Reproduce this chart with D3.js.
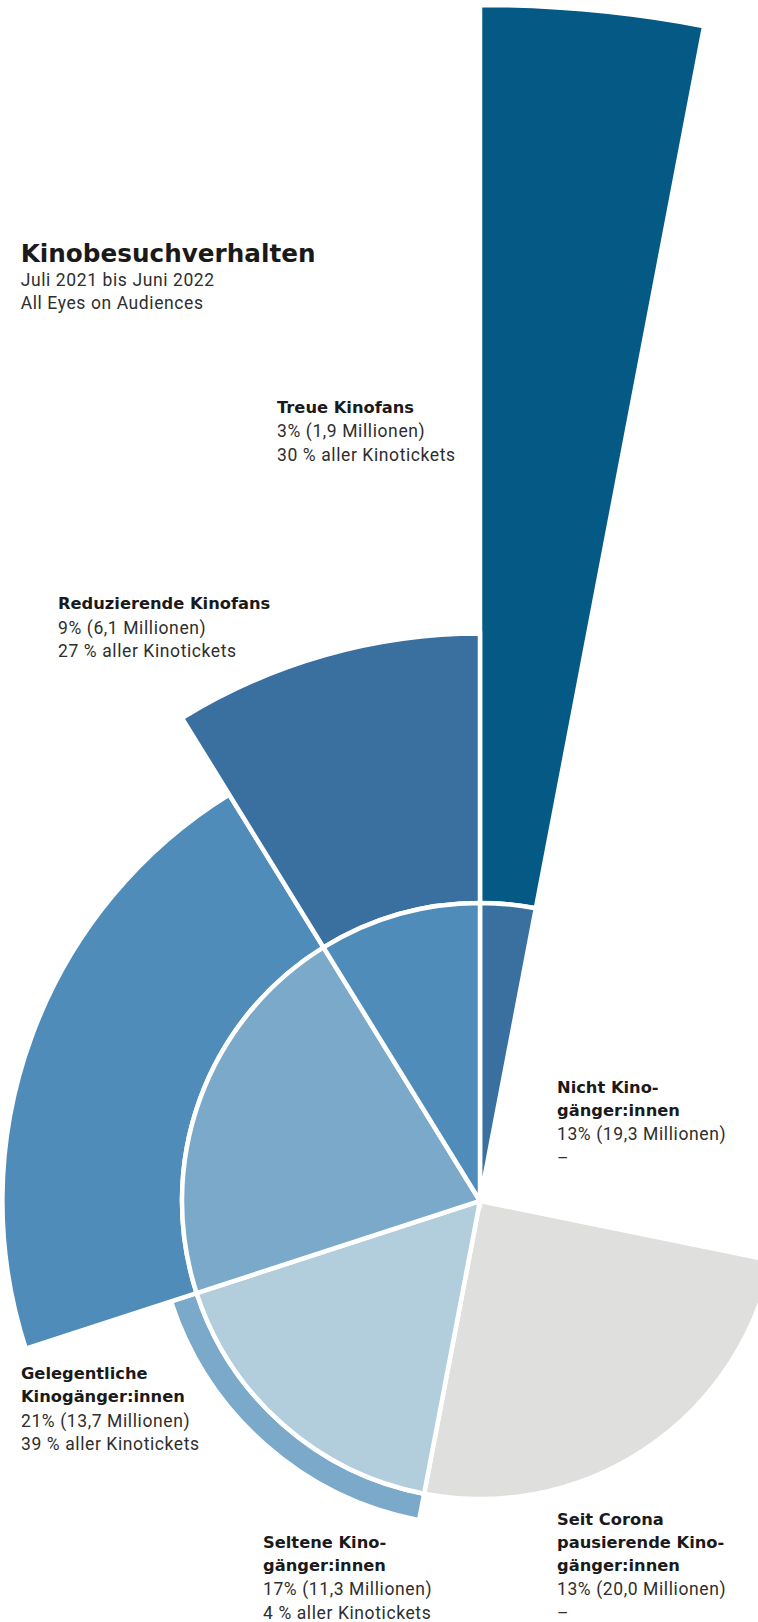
<!DOCTYPE html>
<html>
<head>
<meta charset="utf-8">
<script src="https://cdn.jsdelivr.net/npm/d3@7"></script>
<style>
  body { margin: 0; background: #fff; }
  .head { font-family: "DejaVu Sans", sans-serif; font-weight: bold; fill: #1a1a1a; }
  .body { font-family: Roboto, sans-serif; font-weight: 400; fill: #2e2e2e; letter-spacing: 0.6px; }
</style>
</head>
<body>
<div id="chart"></div>
<script>
const width = 758;
const height = 1622;

// segments, clockwise from 12 o'clock
const segments = ['Treue Kinofans', 'Nicht Kinogänger:innen', 'Seit Corona pausierende Kinogänger:innen',
  'Seltene Kinogänger:innen', 'Gelegentliche Kinogänger:innen', 'Reduzierende Kinofans'];
const audienceShare = [3, 25.2, 24.8, 17, 21.2, 8.8];
// outer extension: ticket share relative to audience share
const ticketIndex = [10, 0, 0, 0.3, 2.0, 3.0];

const headLines = [
  ['Treue Kinofans'],
  ['Nicht Kino-', 'gänger:innen'],
  ['Seit Corona', 'pausierende Kino-', 'gänger:innen'],
  ['Seltene Kino-', 'gänger:innen'],
  ['Gelegentliche', 'Kinogänger:innen'],
  ['Reduzierende Kinofans']
];
const shareLabels = ['3% (1,9 Millionen)', '13% (19,3 Millionen)', '13% (20,0 Millionen)',
  '17% (11,3 Millionen)', '21% (13,7 Millionen)', '9% (6,1 Millionen)'];
const ticketLabels = ['30 % aller Kinotickets', '–', '–', '4 % aller Kinotickets',
  '39 % aller Kinotickets', '27 % aller Kinotickets'];

const palette = ['#045a85', '#3a70a0', '#4f8cb9', '#7ba9c9', '#b2cedd', '#dfe0de', 'none'];
// inner wedge colour index, outer ring colour index
const innerColor = [1, 6, 5, 4, 3, 2];
const outerColor = [0, 6, 6, 3, 2, 1];

// label anchors (x, first baseline)
const labelPos = [[277, 412.7], [557, 1092.7], [557, 1525], [263, 1547.5], [21, 1379.3], [58, 609.3]];

const cx = 480, cy = 1201;
const r0 = 298;

const rScale = d3.scaleLinear()
  .domain([0, 10])
  .range([r0, 1196]);

const svg = d3.select('#chart')
  .append('svg')
  .attr('width', width)
  .attr('height', height);

const rows = segments.map((s, i) => ({
  name: s, share: audienceShare[i], index: ticketIndex[i], i: i
}));

const pie = d3.pie().sort(null).value(d => d.share);
const arcs = pie(rows);

const arc = d3.arc();

const g = svg.append('g').attr('transform', `translate(${cx},${cy})`);

// outer rings first
g.selectAll('.outer')
  .data(arcs.filter(d => d.data.index > 0))
  .enter()
  .append('path')
  .attr('class', 'outer')
  .attr('d', d => arc({
    innerRadius: r0, outerRadius: rScale(d.data.index),
    startAngle: d.startAngle, endAngle: d.endAngle
  }))
  .attr('fill', d => palette[outerColor[d.data.i]])
  .attr('stroke', '#fff')
  .attr('stroke-width', 4.5)
  .attr('stroke-linejoin', 'miter');

// inner wedges
g.selectAll('.inner')
  .data(arcs.filter(d => palette[innerColor[d.data.i]] !== 'none'))
  .enter()
  .append('path')
  .attr('class', 'inner')
  .attr('d', d => arc({
    innerRadius: 0, outerRadius: r0,
    startAngle: d.startAngle, endAngle: d.endAngle
  }))
  .attr('fill', d => palette[innerColor[d.data.i]])
  .attr('stroke', '#fff')
  .attr('stroke-width', 4.5)
  .attr('stroke-linejoin', 'miter');

// title
svg.append('text').attr('class', 'head')
  .attr('x', 20.7).attr('y', 261.7)
  .style('font-size', '24.7px')
  .text('Kinobesuchverhalten');
svg.append('text').attr('class', 'body')
  .attr('x', 20.7).attr('y', 285.7)
  .style('font-size', '17.5px')
  .text('Juli 2021 bis Juni 2022');
svg.append('text').attr('class', 'body')
  .attr('x', 20.7).attr('y', 309.3)
  .style('font-size', '17.5px')
  .text('All Eyes on Audiences');

// labels
rows.forEach((d, i) => {
  const [x, y0] = labelPos[i];
  let y = y0;
  headLines[i].forEach((line, j) => {
    if (j > 0) y += 23;
    svg.append('text').attr('class', 'head')
      .attr('x', x).attr('y', y)
      .style('font-size', '16.3px')
      .text(line);
  });
  y += 24.3;
  svg.append('text').attr('class', 'body')
    .attr('x', x).attr('y', y)
    .style('font-size', '17.5px')
    .text(shareLabels[i]);
  y += 23.8;
  svg.append('text').attr('class', 'body')
    .attr('x', x).attr('y', y)
    .style('font-size', '17.5px')
    .text(ticketLabels[i]);
});
</script>
</body>
</html>
